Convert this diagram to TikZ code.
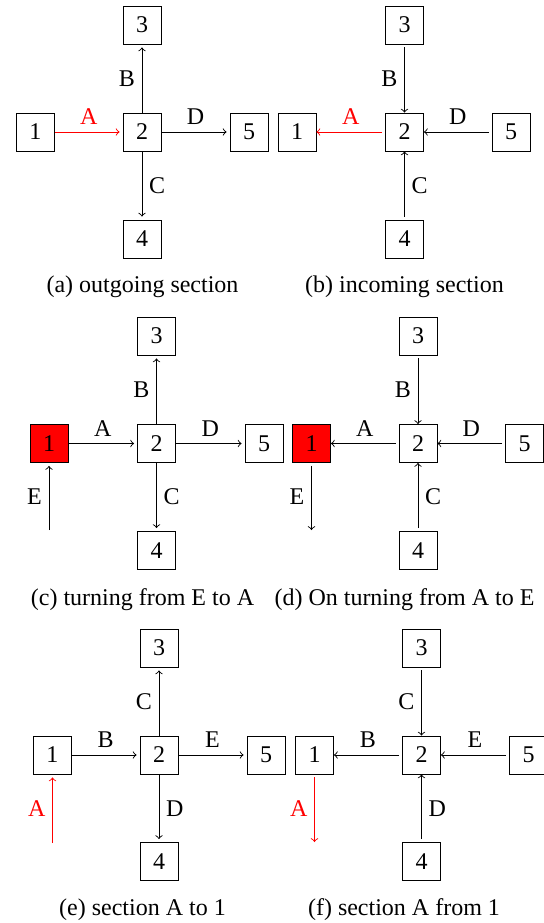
\documentclass[tikz,border=0pt]{standalone}
\usepackage{fontspec}
\setmainfont{Liberation Serif}
\begin{document}
\begin{tikzpicture}[x=0.5pt, y=-0.5pt,
  font=\fontsize{12}{14}\selectfont,
  box/.style={draw, minimum size=19pt, inner sep=0pt, line width=0.45pt},
  hot/.style={box, fill=red},
  outarr/.style={->, line width=0.45pt, shorten >=1.5pt},
  inarr/.style={->, line width=0.45pt, shorten <=1.5pt},
  caption/.style={anchor=base, inner sep=0pt}]
\useasboundingbox (0,0) rectangle (543,923);

% (a) outgoing section
\node[box] (a2) at (142,132) {2};
\node[box] (a1) at (35.5,132) {1};
\node[box] (a3) at (142,25) {3};
\node[box] (a4) at (142,239) {4};
\node[box] (a5) at (249,132) {5};
\draw[outarr, red] (a1) -- node[above] {A} (a2);
\draw[outarr] (a2) -- node[left] {B} (a3);
\draw[outarr] (a2) -- node[right] {C} (a4);
\draw[outarr] (a2) -- node[above] {D} (a5);
\node[caption] (acap) at (142.5,292.5) {(a) outgoing section};

% (b) incoming section
\node[box] (b2) at (404.5,132) {2};
\node[box] (b1) at (297,132) {1};
\node[box] (b3) at (404.5,25) {3};
\node[box] (b4) at (404.5,239) {4};
\node[box] (b5) at (511,132) {5};
\draw[inarr, red] (b2) -- node[above] {A} (b1);
\draw[inarr] (b3) -- node[left] {B} (b2);
\draw[inarr] (b4) -- node[right] {C} (b2);
\draw[inarr] (b5) -- node[above] {D} (b2);
\node[caption] (bcap) at (404.5,292.5) {(b) incoming section};

% (c) turning from E to A
\node[box] (c2) at (156.5,443.5) {2};
\node[hot] (c1) at (49,443.5) {1};
\node[box] (c3) at (156.5,336) {3};
\node[box] (c4) at (156.5,550.5) {4};
\node[box] (c5) at (264,443.5) {5};
\coordinate (cE) at (49,530);
\draw[outarr] (cE) -- node[left] {E} (c1);
\draw[outarr] (c1) -- node[above] {A} (c2);
\draw[outarr] (c2) -- node[left] {B} (c3);
\draw[outarr] (c2) -- node[right] {C} (c4);
\draw[outarr] (c2) -- node[above] {D} (c5);
\node[caption] (ccap) at (142.5,605) {(c) turning from E to A};

% (d) On turning from A to E
\node[box] (d2) at (418,443.5) {2};
\node[hot] (d1) at (311.5,443.5) {1};
\node[box] (d3) at (418,336) {3};
\node[box] (d4) at (418,550.5) {4};
\node[box] (d5) at (524.5,443.5) {5};
\coordinate (dE) at (311.5,530);
\draw[inarr] (d1) -- node[left] {E} (dE);
\draw[inarr] (d2) -- node[above] {A} (d1);
\draw[inarr] (d3) -- node[left] {B} (d2);
\draw[inarr] (d4) -- node[right] {C} (d2);
\draw[inarr] (d5) -- node[above] {D} (d2);
\node[caption] (dcap) at (404.5,605) {(d) On turning from A to E};

% (e) section A to 1
\node[box] (e2) at (159,755) {2};
\node[box] (e1) at (52.5,755) {1};
\node[box] (e3) at (159,648) {3};
\node[box] (e4) at (159,861.5) {4};
\node[box] (e5) at (266,755) {5};
\coordinate (eA) at (52.5,843);
\draw[outarr, red] (eA) -- node[left] {A} (e1);
\draw[outarr] (e1) -- node[above] {B} (e2);
\draw[outarr] (e2) -- node[left] {C} (e3);
\draw[outarr] (e2) -- node[right] {D} (e4);
\draw[outarr] (e2) -- node[above] {E} (e5);
\node[caption] (ecap) at (142.5,915) {(e) section A to 1};

% (f) section A from 1
\node[box] (f2) at (421.5,755) {2};
\node[box] (f1) at (314.5,755) {1};
\node[box] (f3) at (421.5,648) {3};
\node[box] (f4) at (421.5,861.5) {4};
\node[box] (f5) at (528.5,755) {5};
\coordinate (fA) at (314.5,842);
\draw[inarr, red] (f1) -- node[left] {A} (fA);
\draw[inarr] (f2) -- node[above] {B} (f1);
\draw[inarr] (f3) -- node[left] {C} (f2);
\draw[inarr] (f4) -- node[right] {D} (f2);
\draw[inarr] (f5) -- node[above] {E} (f2);
\node[caption] (fcap) at (404,915) {(f) section A from 1};
\end{tikzpicture}
\end{document}
